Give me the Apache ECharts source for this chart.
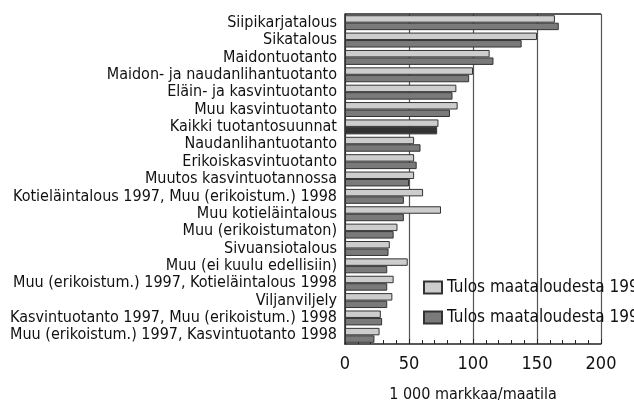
<!DOCTYPE html>
<html><head><meta charset="utf-8">
<script src="https://cdn.jsdelivr.net/npm/echarts@6/dist/echarts.min.js"></script>
<style>html,body{margin:0;padding:0;background:#fff}#c{width:634px;height:402px}</style>
</head><body><div id="c"></div>
<script>
const categories = ["Siipikarjatalous","Sikatalous","Maidontuotanto","Maidon- ja naudanlihantuotanto","Eläin- ja kasvintuotanto","Muu kasvintuotanto","Kaikki tuotantosuunnat","Naudanlihantuotanto","Erikoiskasvintuotanto","Muutos kasvintuotannossa","Kotieläintalous 1997, Muu (erikoistum.) 1998","Muu kotieläintalous","Muu (erikoistumaton)","Sivuansiotalous","Muu (ei kuulu edellisiin)","Muu (erikoistum.) 1997, Kotieläintalous 1998","Viljanviljely","Kasvintuotanto 1997, Muu (erikoistum.) 1998","Muu (erikoistum.) 1997, Kasvintuotanto 1998"];
const values1997 = [164,150,113,100,87,88,73,54,54,54,61,75,41,35,49,38,37,28,27];
const values1998 = [167,138,116,97,84,82,72,59,56,50,46,46,38,34,33,33,33,29,23];
const xTicks = [0,50,100,150,200];
const seriesNames = ["Tulos maataloudesta 1997","Tulos maataloudesta 1998"];
const highlightCategory = "Kaikki tuotantosuunnat";

const FONT = '"Liberation Sans Narrow","DejaVu Sans Condensed",sans-serif';
const chart = echarts.init(document.getElementById('c'));
const d98 = values1998.map((v,i)=> categories[i]===highlightCategory ? {value:v,itemStyle:{color:'#333'}} : v);
chart.setOption({
  animation:false,
  grid:{left:345,right:33,top:14,bottom:58,containLabel:false,outerBoundsMode:'none'},
  legend:{
    orient:'vertical', left:418, top:274, itemGap:13, itemWidth:18, itemHeight:12, icon:'rect',
    textStyle:{fontFamily:FONT,fontSize:17,color:'#111'},
    data:seriesNames
  },
  xAxis:{
    type:'value', min:0, max:200, interval:50,
    name:'1 000 markkaa/maatila', nameLocation:'middle', nameGap:43,
    nameTextStyle:{fontFamily:FONT,fontSize:16,color:'#111'},
    axisLine:{show:true,lineStyle:{color:'#222',width:1.5}},
    axisTick:{show:true,inside:true,length:5,lineStyle:{color:'#222'}},
    minorTick:{show:true,splitNumber:5,length:4,lineStyle:{color:'#222'}},
    axisLabel:{fontFamily:FONT,fontSize:18,color:'#111',margin:11,formatter:v=>xTicks.includes(v)?String(v):''},
    splitLine:{show:true,lineStyle:{color:'#555',width:1.2}}
  },
  yAxis:{
    type:'category', data:categories, inverse:true,
    axisLine:{show:true,lineStyle:{color:'#222',width:1.5}},
    axisTick:{show:false},
    axisLabel:{fontFamily:FONT,fontSize:16,color:'#111',margin:8,interval:0}
  },
  series:[
    {name:seriesNames[0],type:'bar',data:values1997,barGap:'0%',barCategoryGap:'14%',
     itemStyle:{color:'#cdcdcd',borderColor:'#333',borderWidth:1}},
    {name:seriesNames[1],type:'bar',data:d98,
     itemStyle:{color:'#7a7a7a',borderColor:'#333',borderWidth:1},
     markLine:{silent:true,symbol:'none',label:{show:false},lineStyle:{color:'#222',width:1.5,type:'solid'},
       data:[[{coord:[0,categories[0]],y:14},{coord:[200,categories[0]],y:14}]]}}
  ]
});
</script></body></html>
